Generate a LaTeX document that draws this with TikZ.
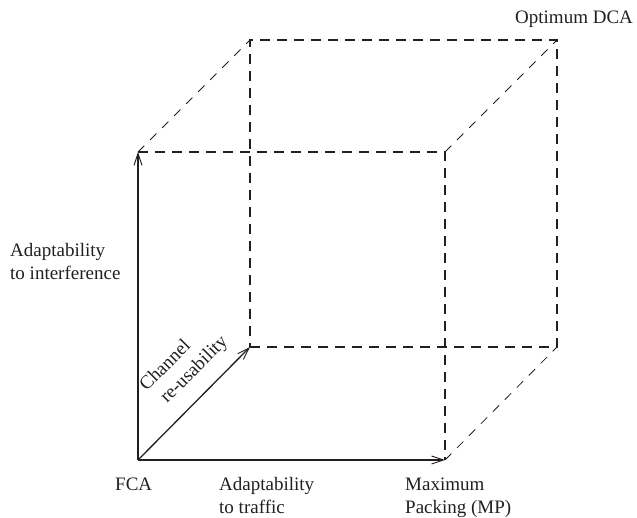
\documentclass[tikz,border=0pt]{standalone}
\usepackage{fontspec}
\setmainfont{Liberation Serif}
\usetikzlibrary{arrows.meta}
\definecolor{ink}{RGB}{35,31,32}
\begin{document}
\begin{tikzpicture}[x=1pt,y=1pt,
  lbl/.style={text=ink,inner sep=0pt,font=\fontsize{19}{23}\selectfont,anchor=base west},
  axis/.style={draw=ink,line width=1.3pt,-{Straight Barb[length=12pt,width=8pt,line width=0.9pt]}},
  edge/.style={draw=ink,line width=1.2pt,dash pattern=on 10pt off 7pt},
  diag/.style={draw=ink,line width=0.8pt,dash pattern=on 9pt off 8pt}]
\useasboundingbox (0,0) rectangle (637,518);
% cube corners
\coordinate (O) at (138,58);
\coordinate (FBR) at (445,58);
\coordinate (FTL) at (138,366);
\coordinate (FTR) at (445,366);
\coordinate (BBL) at (250,171);
\coordinate (BBR) at (557,171);
\coordinate (BTL) at (250,478);
\coordinate (BTR) at (557,478);
% dashed edges
\draw[edge] (FTL) -- (FTR) -- (FBR);
\draw[edge] (BBL) -- (BBR) -- (BTR) -- (BTL) -- cycle;
\draw[diag] (FTL) -- (BTL);
\draw[diag] (FTR) -- (BTR);
\draw[diag] (FBR) -- (BBR);
% axes
\draw[axis] (O) -- (FTL);
\draw[axis] (O) -- (FBR);
\draw[axis] (O) -- (BBL);
% labels
\node[lbl] (dca) at (515,494) {Optimum DCA};
\node[lbl] (intf) at (10,261) {\begin{tabular}[t]{@{}l@{}}Adaptability\\to interference\end{tabular}};
\node[lbl] (fca) at (115,27) {FCA};
\node[lbl] (traf) at (219,27) {\begin{tabular}[t]{@{}l@{}}Adaptability\\to traffic\end{tabular}};
\node[lbl] (mp) at (405,27) {\begin{tabular}[t]{@{}l@{}}Maximum\\Packing (MP)\end{tabular}};
\node[lbl,rotate=45] (reuse) at (146.5,125.9) {\begin{tabular}[t]{@{}l@{}}Channel\\\hspace*{6pt}re-usability\end{tabular}};
\end{tikzpicture}
\end{document}
